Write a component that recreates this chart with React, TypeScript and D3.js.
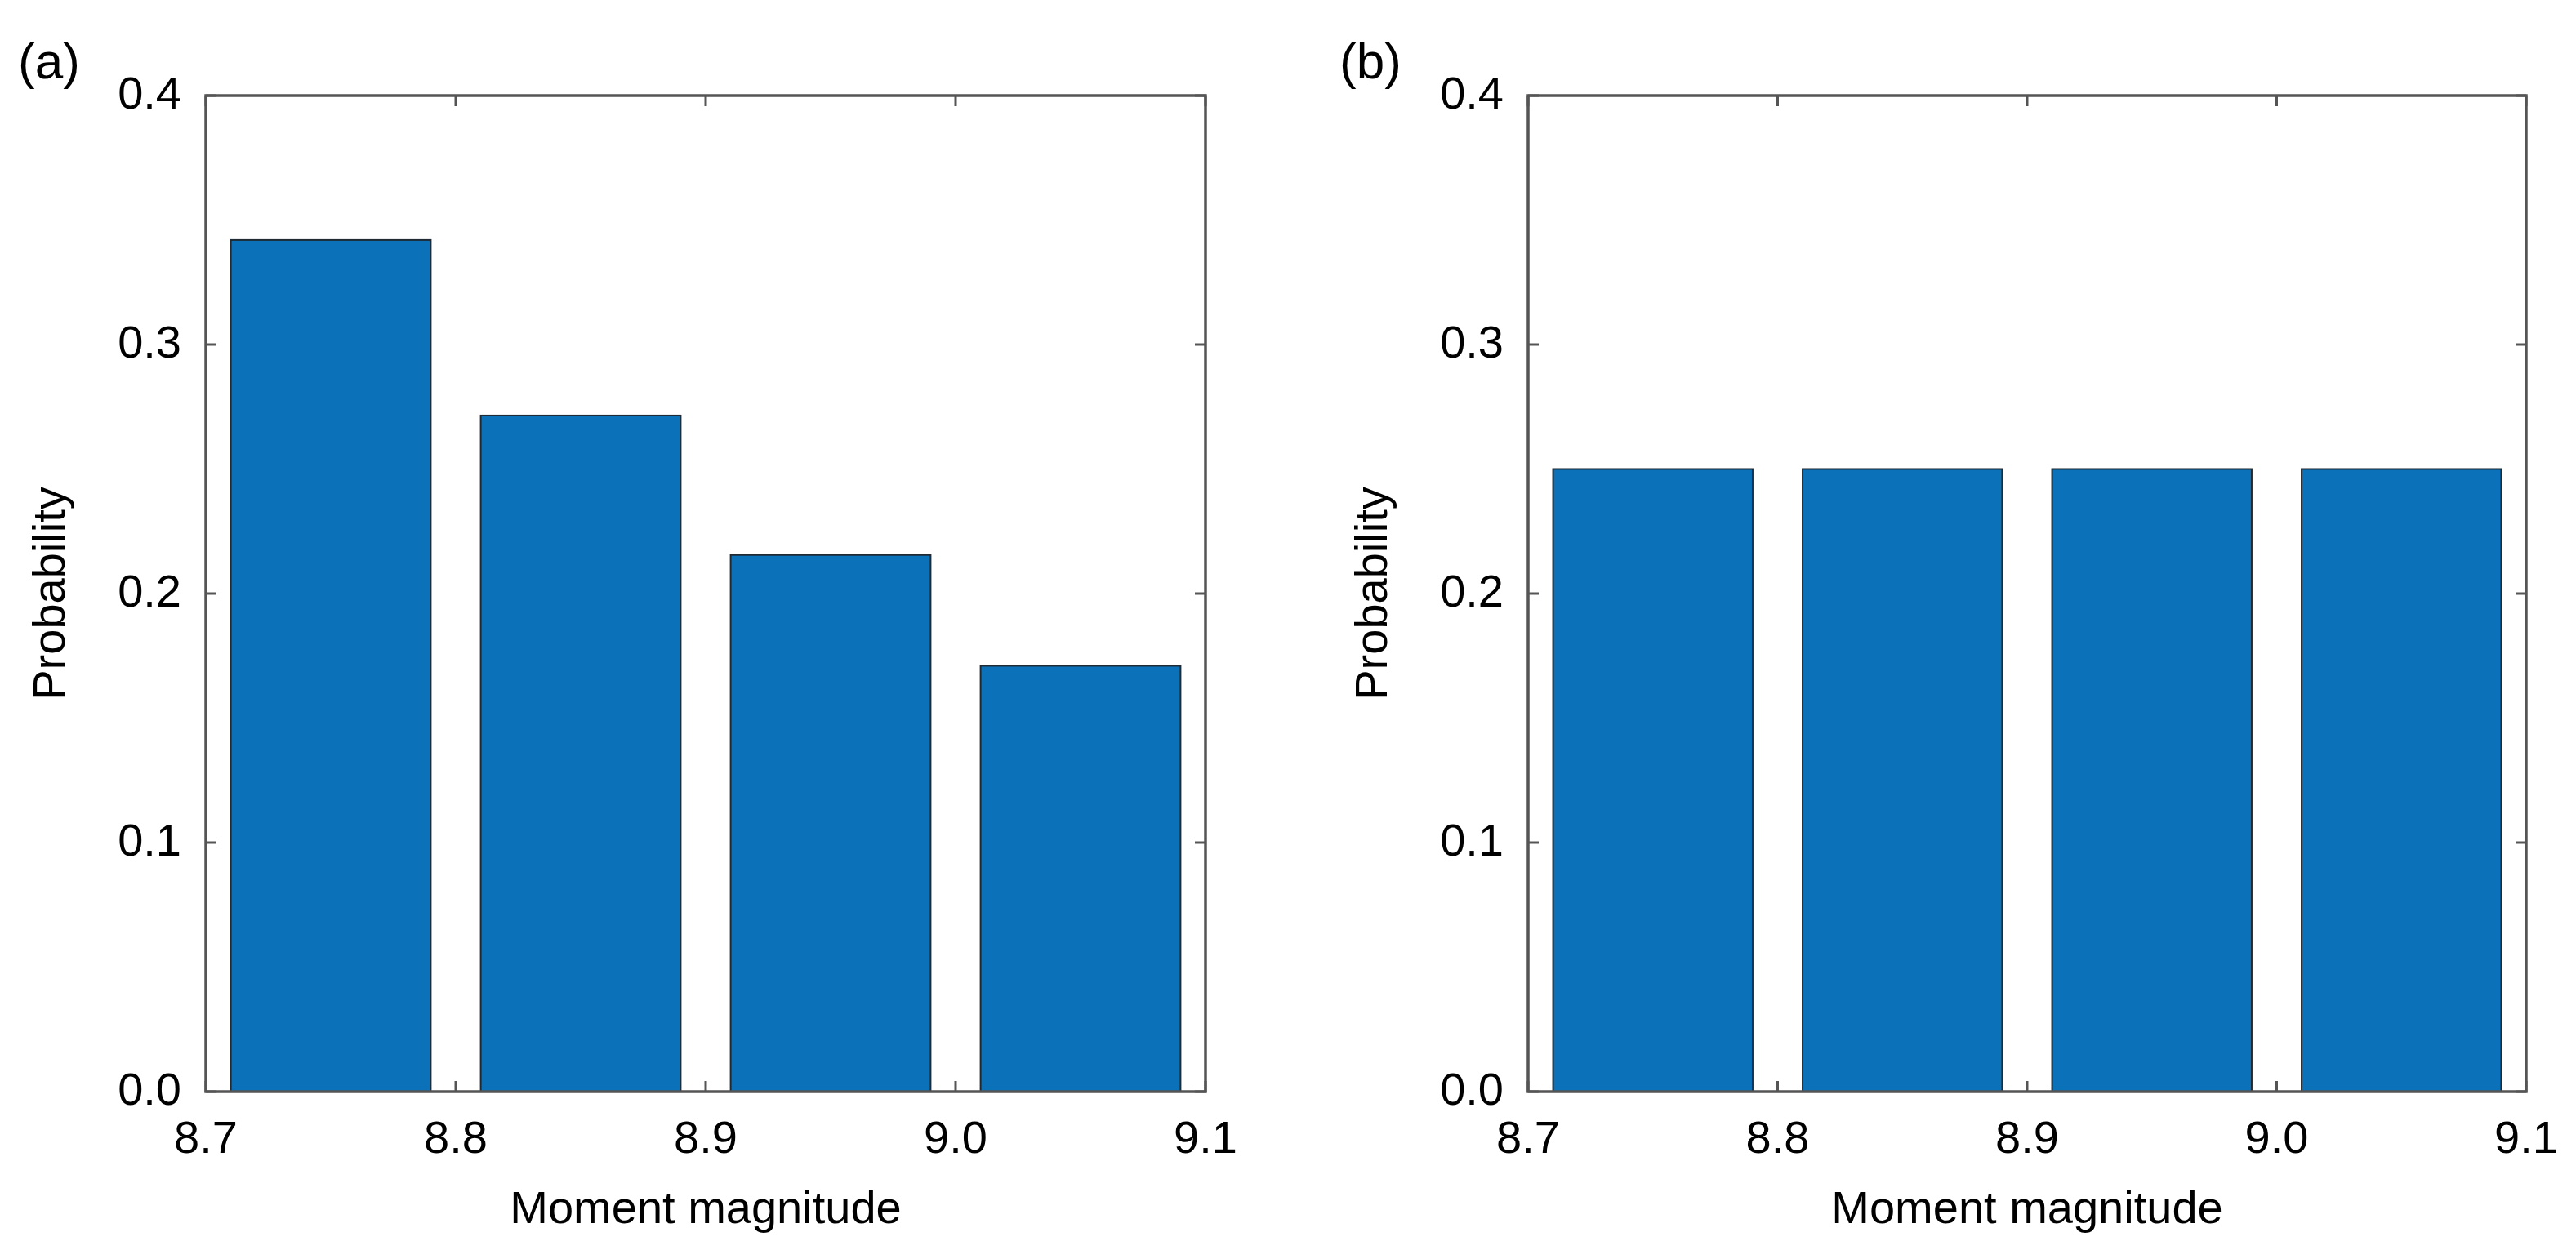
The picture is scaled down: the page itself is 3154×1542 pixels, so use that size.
import React from "react";
import * as d3 from "d3";

const W = 3154;
const H = 1542;

const binCenters = [8.75, 8.85, 8.95, 9.05];
const probA = [0.342, 0.2715, 0.2155, 0.171];
const probB = [0.25, 0.25, 0.25, 0.25];
const xTicks = [8.7, 8.8, 8.9, 9.0, 9.1];
const yTicks = [0.0, 0.1, 0.2, 0.3, 0.4];
const panelLabels = ["(a)", "(b)"];
const xTitle = "Moment magnitude";
const yTitle = "Probability";

const FONT = "'Liberation Sans', Arial, Helvetica, sans-serif";
const FS = 56;
const AXIS = "#555555";
const BAR = "#0b72ba";
const BAR_EDGE = "#1f2a33";
const BAR_WIDTH = 0.08;
const TICK = 13;

interface PanelProps {
  left: number;
  right: number;
  top: number;
  bottom: number;
  values: number[];
  label: string;
  labelX: number;
}

function Panel({ left, right, top, bottom, values, label, labelX }: PanelProps) {
  const x = d3.scaleLinear().domain([8.7, 9.1]).range([left, right]);
  const y = d3.scaleLinear().domain([0, 0.4]).range([bottom, top]);
  const fmt = d3.format(".1f");
  return (
    <g>
      {values.map((v, i) => {
        const x0 = x(binCenters[i] - BAR_WIDTH / 2);
        const x1 = x(binCenters[i] + BAR_WIDTH / 2);
        return (
          <rect
            key={i}
            x={x0}
            y={y(v)}
            width={x1 - x0}
            height={y(0) - y(v)}
            fill={BAR}
            stroke={BAR_EDGE}
            strokeWidth={2}
          />
        );
      })}
      {xTicks.map((t, i) => (
        <g key={"xt" + i}>
          <line x1={x(t)} x2={x(t)} y1={bottom} y2={bottom - TICK} stroke={AXIS} strokeWidth={3} />
          <line x1={x(t)} x2={x(t)} y1={top} y2={top + TICK} stroke={AXIS} strokeWidth={3} />
          <text x={x(t)} y={bottom + 75} textAnchor="middle" fontFamily={FONT} fontSize={FS} fill="#000">
            {fmt(t)}
          </text>
        </g>
      ))}
      {yTicks.map((t, i) => (
        <g key={"yt" + i}>
          <line x1={left} x2={left + TICK} y1={y(t)} y2={y(t)} stroke={AXIS} strokeWidth={3} />
          <line x1={right} x2={right - TICK} y1={y(t)} y2={y(t)} stroke={AXIS} strokeWidth={3} />
          <text x={left - 30} y={y(t) + 16} textAnchor="end" fontFamily={FONT} fontSize={FS} fill="#000">
            {fmt(t)}
          </text>
        </g>
      ))}
      <rect
        x={left}
        y={top}
        width={right - left}
        height={bottom - top}
        fill="none"
        stroke={AXIS}
        strokeWidth={3.5}
      />
      <text x={(left + right) / 2} y={bottom + 161} textAnchor="middle" fontFamily={FONT} fontSize={FS} fill="#000">
        {xTitle}
      </text>
      <text
        transform={`translate(${left - 173},${(top + bottom) / 2}) rotate(-90)`}
        textAnchor="middle"
        fontFamily={FONT}
        fontSize={FS}
        fill="#000"
      >
        {yTitle}
      </text>
      <text x={labelX} y={96} fontFamily={FONT} fontSize={62} fill="#000">
        {label}
      </text>
    </g>
  );
}

export default function App() {
  return (
    <svg
      width={W}
      height={H}
      viewBox={`0 0 ${W} ${H}`}
      style={{ position: "absolute", left: 0, top: 0, background: "#fff" }}
    >
      <rect x={0} y={0} width={W} height={H} fill="#fff" />
      <Panel left={252} right={1476} top={117} bottom={1337} values={probA} label={panelLabels[0]} labelX={22} />
      <Panel left={1871} right={3093} top={117} bottom={1337} values={probB} label={panelLabels[1]} labelX={1640} />
    </svg>
  );
}
